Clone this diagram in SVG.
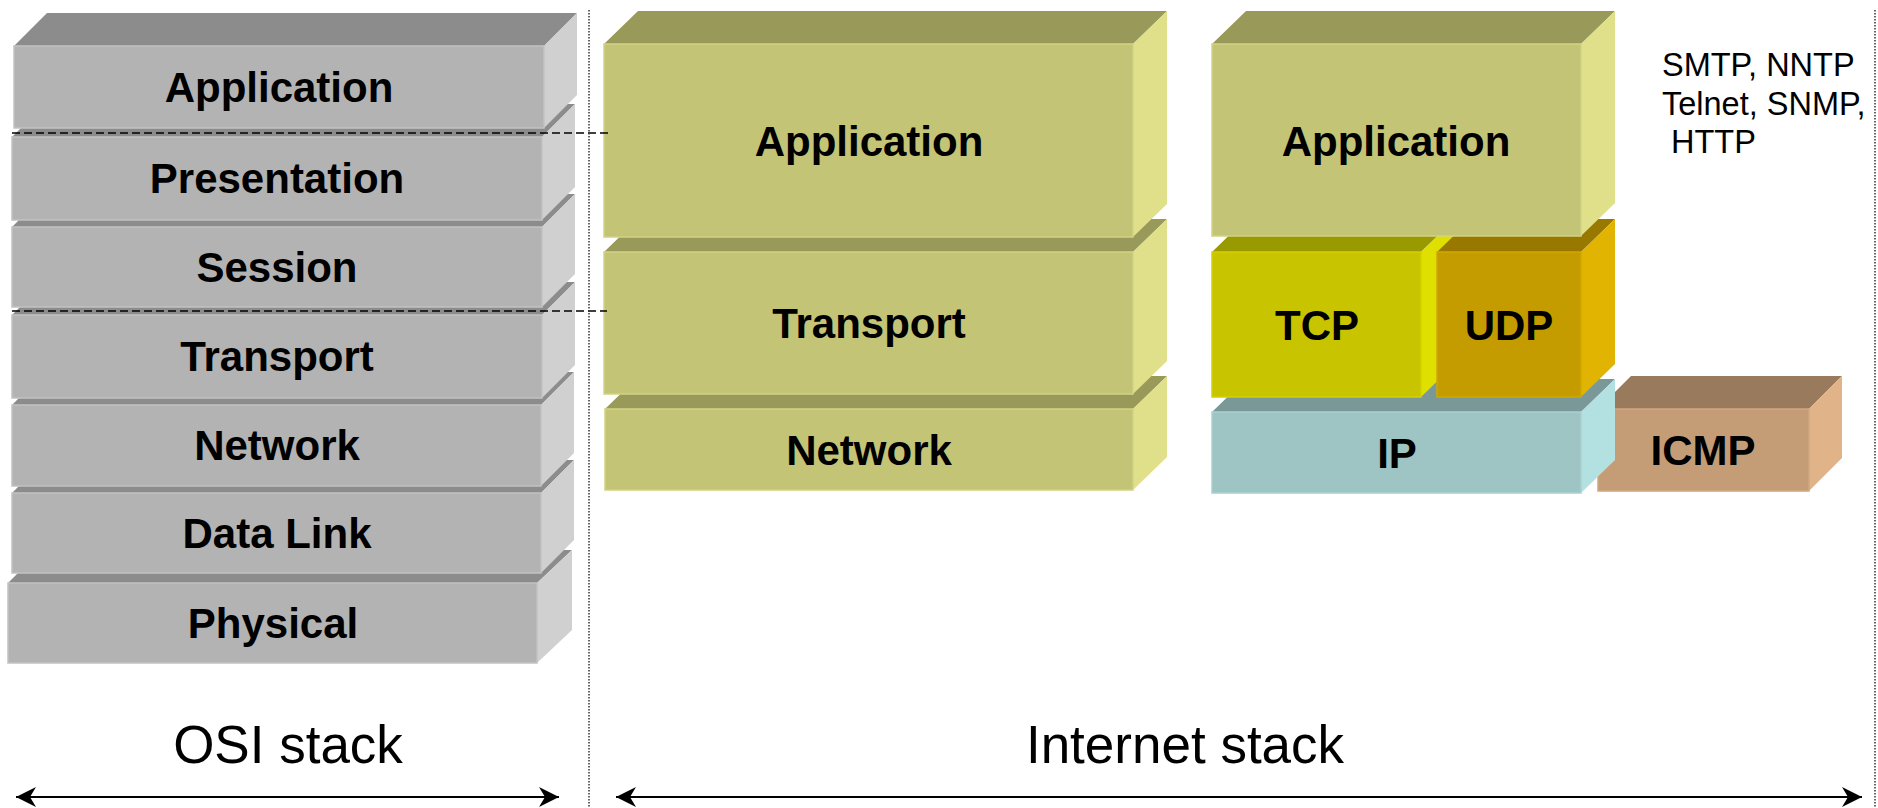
<svg xmlns="http://www.w3.org/2000/svg" width="1878" height="808" viewBox="0 0 1878 808">
  <style>
    .lbl { font-family: "Liberation Sans", Arial, sans-serif; font-weight: bold; font-size: 42px; fill: #000; text-anchor: middle; }
    .cap { font-family: "Liberation Sans", Arial, sans-serif; font-size: 53px; fill: #000; text-anchor: middle; }
    .proto { font-family: "Liberation Sans", Arial, sans-serif; font-size: 32.5px; fill: #000; }
    .grey .top { fill: #8c8c8c; } .grey .side { fill: #d0d0d0; } .grey .front { fill: #b3b3b3; stroke: #c2c2c2; stroke-width: 1.5; }
    .olive .top { fill: #999959; } .olive .side { fill: #e0e08a; } .olive .front { fill: #c4c477; stroke: #d2d285; stroke-width: 1.5; }
    .tcp .top { fill: #999900; } .tcp .side { fill: #e0e000; } .tcp .front { fill: #c8c400; stroke: #d4d000; stroke-width: 1.5; }
    .udp .top { fill: #997800; } .udp .side { fill: #e0b400; } .udp .front { fill: #c49c00; stroke: #cfa800; stroke-width: 1.5; }
    .ip .top { fill: #7a9898; } .ip .side { fill: #b3e0e0; } .ip .front { fill: #9ec4c4; stroke: #aad0d0; stroke-width: 1.5; }
    .icmp .top { fill: #997a5c; } .icmp .side { fill: #e0b388; } .icmp .front { fill: #c49c76; stroke: #d0a883; stroke-width: 1.5; }
    .dash { stroke: #000; stroke-width: 1.6; stroke-dasharray: 8 4; fill: none; }
    .dots { stroke: #333; stroke-width: 1.5; stroke-dasharray: 1.5 1.5; fill: none; }
    .span { stroke: #000; stroke-width: 2; fill: none; marker-start: url(#head); marker-end: url(#head); }
  </style>
  <defs>
    <marker id="head" viewBox="-20 -10 20 20" refX="0" refY="0" markerWidth="20" markerHeight="20" markerUnits="userSpaceOnUse" orient="auto-start-reverse">
      <path d="M0,0 L-20,-10 L-14,0 L-20,10 Z" fill="#000"/>
    </marker>
  </defs>

  <!-- OSI stack: drawn bottom-up so each layer overlaps the one below -->
  <g id="osi-physical" class="grey">
    <polygon class="top" points="8,583 41,550 572,550 537,583"/>
    <polygon class="side" points="537,583 572,550 572,630 537,663"/>
    <rect class="front" x="8" y="583" width="529" height="80"/>
    <text class="lbl" x="273" y="638">Physical</text>
  </g>
  <g id="osi-datalink" class="grey">
    <polygon class="top" points="12,493 45,460 574,460 541,493"/>
    <polygon class="side" points="541,493 574,460 574,540 541,573"/>
    <rect class="front" x="12" y="493" width="529" height="80"/>
    <text class="lbl" x="277" y="548">Data Link</text>
  </g>
  <g id="osi-network" class="grey">
    <polygon class="top" points="12,405 45,372 574,372 541,405"/>
    <polygon class="side" points="541,405 574,372 574,453 541,486"/>
    <rect class="front" x="12" y="405" width="529" height="81"/>
    <text class="lbl" x="277" y="460">Network</text>
  </g>
  <g id="osi-transport" class="grey">
    <polygon class="top" points="12,315 45,282 575,282 542,315"/>
    <polygon class="side" points="542,315 575,282 575,365 542,398"/>
    <rect class="front" x="12" y="315" width="530" height="83"/>
    <text class="lbl" x="277" y="371">Transport</text>
  </g>
  <g id="osi-session" class="grey">
    <polygon class="top" points="12,227 45,194 575,194 542,227"/>
    <polygon class="side" points="542,227 575,194 575,274 542,307"/>
    <rect class="front" x="12" y="227" width="530" height="80"/>
    <text class="lbl" x="277" y="282">Session</text>
  </g>
  <g id="osi-presentation" class="grey">
    <polygon class="top" points="12,137 45,104 575,104 542,137"/>
    <polygon class="side" points="542,137 575,104 575,187 542,220"/>
    <rect class="front" x="12" y="137" width="530" height="83"/>
    <text class="lbl" x="277" y="193">Presentation</text>
  </g>
  <g id="osi-application" class="grey">
    <polygon class="top" points="14,46 47,13 577,13 544,46"/>
    <polygon class="side" points="544,46 577,13 577,95 544,128"/>
    <rect class="front" x="14" y="46" width="530" height="82"/>
    <text class="lbl" x="279" y="102">Application</text>
  </g>

  <!-- Internet stack, generic layers -->
  <g id="inet-network" class="olive">
    <polygon class="top" points="605,409 639,376 1167,376 1133,409"/>
    <polygon class="side" points="1133,409 1167,376 1167,457 1133,490"/>
    <rect class="front" x="605" y="409" width="528" height="81"/>
    <text class="lbl" x="869" y="465">Network</text>
  </g>
  <g id="inet-transport" class="olive">
    <polygon class="top" points="604,252 638,219 1167,219 1133,252"/>
    <polygon class="side" points="1133,252 1167,219 1167,361 1133,394"/>
    <rect class="front" x="604" y="252" width="529" height="142"/>
    <text class="lbl" x="869" y="338">Transport</text>
  </g>
  <g id="inet-application" class="olive">
    <polygon class="top" points="604,44 638,11 1167,11 1133,44"/>
    <polygon class="side" points="1133,44 1167,11 1167,204 1133,237"/>
    <rect class="front" x="604" y="44" width="529" height="193"/>
    <text class="lbl" x="869" y="156">Application</text>
  </g>

  <!-- Internet stack, protocols -->
  <g id="proto-icmp" class="icmp">
    <polygon class="top" points="1598,409 1631,376 1842,376 1809,409"/>
    <polygon class="side" points="1809,409 1842,376 1842,458 1809,491"/>
    <rect class="front" x="1598" y="409" width="211" height="82"/>
    <text class="lbl" x="1703" y="465">ICMP</text>
  </g>
  <g id="proto-ip" class="ip">
    <polygon class="top" points="1212,412 1246,379 1615,379 1581,412"/>
    <polygon class="side" points="1581,412 1615,379 1615,460 1581,493"/>
    <rect class="front" x="1212" y="412" width="369" height="81"/>
    <text class="lbl" x="1397" y="468">IP</text>
  </g>
  <g id="proto-tcp" class="tcp">
    <polygon class="top" points="1212,252 1246,219 1455,219 1421,252"/>
    <polygon class="side" points="1421,252 1455,219 1455,364 1421,397"/>
    <rect class="front" x="1212" y="252" width="209" height="145"/>
    <text class="lbl" x="1317" y="340">TCP</text>
  </g>
  <g id="proto-udp" class="udp">
    <polygon class="top" points="1437,252 1471,219 1615,219 1581,252"/>
    <polygon class="side" points="1581,252 1615,219 1615,364 1581,397"/>
    <rect class="front" x="1437" y="252" width="144" height="145"/>
    <text class="lbl" x="1509" y="340">UDP</text>
  </g>
  <g id="proto-application" class="olive">
    <polygon class="top" points="1212,44 1246,11 1615,11 1581,44"/>
    <polygon class="side" points="1581,44 1615,11 1615,203 1581,236"/>
    <rect class="front" x="1212" y="44" width="369" height="192"/>
    <text class="lbl" x="1396" y="156">Application</text>
  </g>

  <g id="app-protocols">
    <text class="proto" x="1662" y="76">SMTP, NNTP</text>
    <text class="proto" x="1662" y="115">Telnet, SNMP,</text>
    <text class="proto" x="1671" y="153">HTTP</text>
  </g>

  <!-- connectors: layer mapping guides, separators and span arrows -->
  <g id="connectors">
    <line class="dash" x1="12" y1="133" x2="609" y2="133"/>
    <line class="dash" x1="12" y1="311" x2="607" y2="311"/>
    <line class="dots" x1="589" y1="10" x2="589" y2="808"/>
    <line class="dots" x1="1875" y1="10" x2="1875" y2="808"/>
    <line class="span" x1="16" y1="797" x2="559" y2="797"/>
    <line class="span" x1="616" y1="797" x2="1862" y2="797"/>
  </g>

  <g id="captions">
    <text class="cap" x="288" y="763">OSI stack</text>
    <text class="cap" x="1185" y="763">Internet stack</text>
  </g>
</svg>
